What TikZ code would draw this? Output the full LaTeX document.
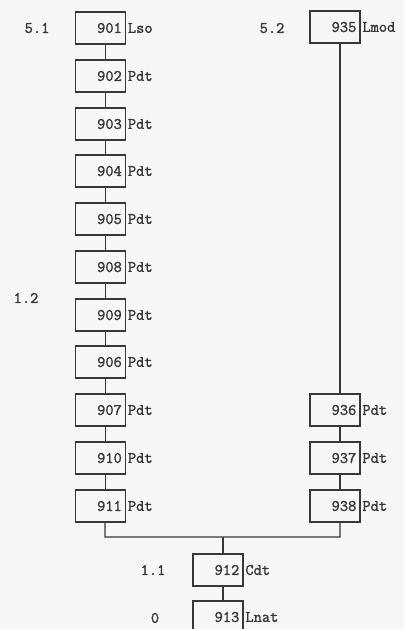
\documentclass[tikz,border=0pt]{standalone}
\usepackage{fontspec}
\newfontfamily\twfont[FakeBold=1.6]{Latin Modern Mono}
\definecolor{ink}{HTML}{383838}
\definecolor{paper}{HTML}{F7F7F7}
\begin{document}
\begin{tikzpicture}[x=0.75pt,y=-0.75pt,
  box/.style={draw=ink,line width=0.8pt,minimum width=37.5pt,minimum height=24pt,inner sep=0pt,
    text width=32pt,align=right,font=\twfont\fontsize{12}{14}\selectfont,text=ink},
  tag/.style={font=\twfont\fontsize{12}{14}\selectfont,text=ink,inner sep=1.2pt},
  link/.style={draw=ink,line width=0.8pt}]
\useasboundingbox[fill=paper] (0,0) rectangle (404,629);
\begin{scope}
\clip (0,0) rectangle (404,629);
% left column
\foreach \n/\y/\t in {901/28/Lso,902/76/Pdt,903/124/Pdt,904/171/Pdt,905/219/Pdt,908/267/Pdt,909/315/Pdt,906/362/Pdt,907/410/Pdt,910/458/Pdt,911/506/Pdt}{
  \node[box,label={[tag,anchor=west]east:\t}] (b\n) at (100.5,\y) {\n};
}
% right column
\foreach \n/\y/\t in {935/27/Lmod,936/410/Pdt,937/458/Pdt,938/506/Pdt}{
  \node[box,label={[tag,anchor=west]east:\t}] (b\n) at (335,\y) {\n};
}
\node[box,label={[tag,anchor=west]east:Cdt}] (b912) at (218,570) {912};
\node[box,label={[tag,anchor=west]east:Lnat}] (b913) at (218,617) {913};
% level labels
\node[tag] (l51) at (37,28) {5.1};
\node[tag] (l52) at (272,28) {5.2};
\node[tag] (l12) at (26,298) {1.2};
\node[tag] (l11) at (153,570) {1.1};
\node[tag] (l0) at (155,618) {0};
% connectors
\foreach \a/\b in {901/902,902/903,903/904,904/905,905/908,908/909,909/906,906/907,907/910,910/911}{
  \draw[link] ([xshift=3.4pt]b\a.south) -- ([xshift=3.4pt]b\b.north);
}
\draw[link] ([xshift=3.75pt]b935.south) -- ([xshift=3.75pt]b936.north);
\draw[link] ([xshift=3.75pt]b936.south) -- ([xshift=3.75pt]b937.north);
\draw[link] ([xshift=3.75pt]b937.south) -- ([xshift=3.75pt]b938.north);
\coordinate (jl) at (105,537);
\coordinate (jr) at (340,537);
\coordinate (jm) at (223,537);
\draw[link] ([xshift=3.4pt]b911.south) -- (jl) -- (jr) -- ([xshift=3.75pt]b938.south);
\draw[link] (jm) -- ([xshift=3.75pt]b912.north);
\draw[link] ([xshift=3.75pt]b912.south) -- ([xshift=3.75pt]b913.north);
\end{scope}
\end{tikzpicture}
\end{document}
